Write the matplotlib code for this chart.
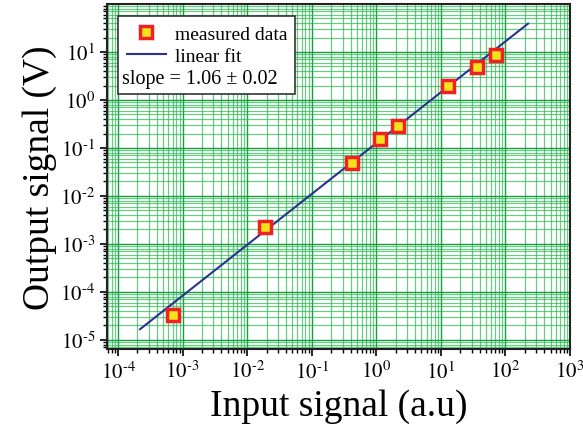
import matplotlib
matplotlib.use("Agg")
import matplotlib.pyplot as plt
import numpy as np
from matplotlib.ticker import LogLocator, NullFormatter
from matplotlib.patches import Rectangle

plt.rcParams['font.family'] = ['Liberation Serif', 'DejaVu Serif']
plt.rcParams['mathtext.fontset'] = 'stix'

# measured points
input_signal = [7.0e-4, 0.0186, 0.415, 1.14, 2.18, 13.0, 36.5, 70.3]
output_signal = [3.3e-5, 2.3e-3, 0.048, 0.154, 0.283, 1.93, 4.94, 8.8]

# linear fit in log-log space
fit_slope = 1.06
fit_intercept = -0.9
fit_range = [2.2e-4, 224]

x_ticks = [1e-4, 1e-3, 1e-2, 1e-1, 1e0, 1e1, 1e2, 1e3]
y_ticks = [1e-5, 1e-4, 1e-3, 1e-2, 1e-1, 1e0, 1e1]


def pow_label(v):
    e = int(round(np.log10(v)))
    if e < 0:
        return r'$10^{\text{-}%d}$' % -e
    return r'$10^{%d}$' % e


fig = plt.figure(figsize=(5.83, 4.39), dpi=100)
ax = fig.add_axes([107 / 583, 1 - 350 / 439, 463 / 583, 345 / 439])

fit_x = np.logspace(np.log10(fit_range[0]), np.log10(fit_range[1]), 50)
fit_y = 10 ** fit_intercept * fit_x ** fit_slope

ax.plot(fit_x, fit_y, color='#2b3190', lw=1.5, label='linear fit', zorder=3)
ax.plot(input_signal, output_signal, 's', ms=8.5, mfc='#f5e31a', mec='#ee2222',
        mew=2.5, ls='none', label='measured data', zorder=4)

ax.set_xscale('log')
ax.set_yscale('log')
ax.set_xlim(10 ** -4.17, 1e3)
ax.set_ylim(10 ** -5.19, 1e2)

ax.set_xticks(x_ticks)
ax.set_yticks(y_ticks)
ax.set_xticklabels([pow_label(v) for v in x_ticks])
ax.set_yticklabels([pow_label(v) for v in y_ticks])
ax.xaxis.set_minor_locator(LogLocator(base=10, subs=np.arange(2, 10), numticks=20))
ax.yaxis.set_minor_locator(LogLocator(base=10, subs=np.arange(2, 10), numticks=20))
ax.xaxis.set_minor_formatter(NullFormatter())
ax.yaxis.set_minor_formatter(NullFormatter())

ax.tick_params(which='major', direction='out', length=5, width=1.2, labelsize=15)
ax.tick_params(which='minor', direction='out', length=3, width=1)

ax.grid(True, which='major', color='#12a040', lw=1.0)
ax.grid(True, which='minor', color='#2db552', lw=0.9, alpha=0.7)
ax.set_axisbelow(True)

for s in ax.spines.values():
    s.set_linewidth(1.5)
    s.set_color('#222222')

ax.set_xlabel('Input signal (a.u)', fontsize=27, labelpad=4)
ax.set_ylabel('Output signal (V)', fontsize=27, labelpad=2)

# legend box with the slope line under the entries
ax.add_patch(Rectangle((0.024, 0.739), 0.382, 0.226, transform=ax.transAxes,
                       facecolor='white', edgecolor='#333333', lw=1.2, zorder=5))
handles, labels = ax.get_legend_handles_labels()
leg = ax.legend(handles[::-1], labels[::-1], loc='upper left',
                bbox_to_anchor=(0.026, 0.96), frameon=False, fontsize=14,
                handlelength=2.0, handletextpad=0.5, borderaxespad=0,
                labelspacing=0.2)
leg.set_zorder(6)
ax.text(0.032, 0.783, 'slope = 1.06 \u00b1 0.02', transform=ax.transAxes,
        fontsize=14.5, va='center', ha='left', zorder=7)

fig.savefig('out.png', dpi=100)
